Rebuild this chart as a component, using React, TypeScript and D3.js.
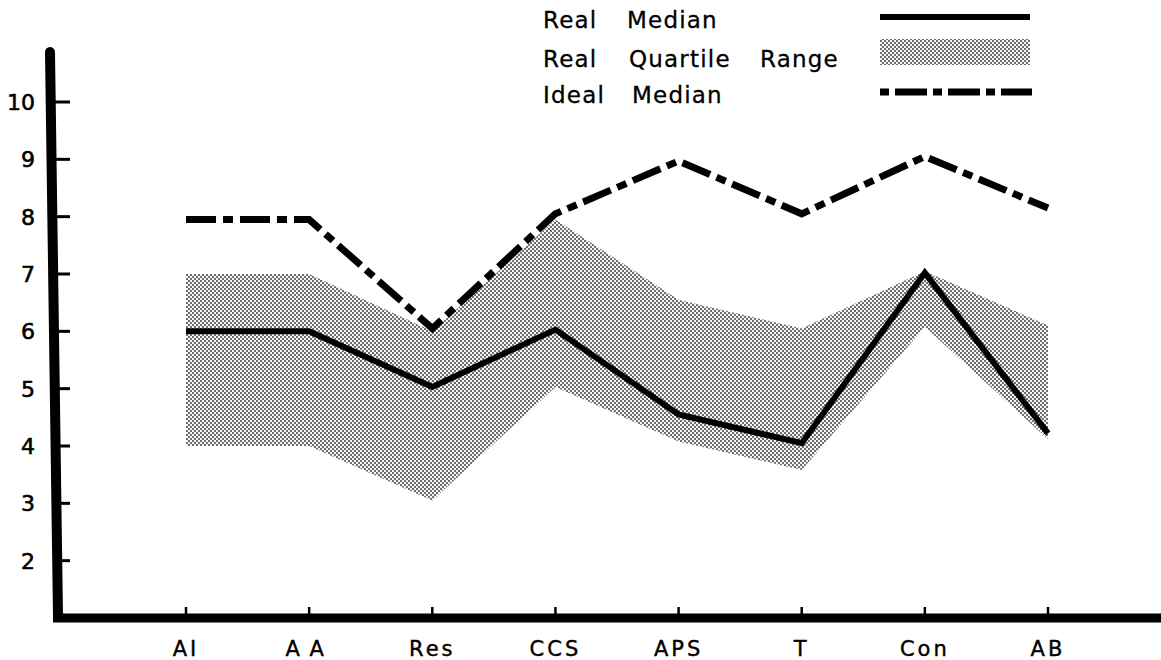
import React from "react";
import * as d3 from "d3";

const categories = ["AI", "AA", "Res", "CCS", "APS", "T", "Con", "AB"];
const realMedian = [6.0, 6.0, 5.03, 6.03, 4.55, 4.05, 7.02, 4.22];
const quartileUpper = [7.0, 7.0, 6.0, 7.95, 6.55, 6.05, 7.05, 6.1];
const quartileLower = [4.0, 4.0, 3.05, 5.03, 4.08, 3.58, 6.08, 4.12];
const idealMedian = [7.95, 7.95, 6.05, 8.05, 8.97, 8.05, 9.05, 8.15];
const yTicks = [2, 3, 4, 5, 6, 7, 8, 9, 10];

const W = 1161;
const H = 660;
const FONT = "'DejaVu Sans', 'Liberation Sans', Arial, sans-serif";

export default function App() {
  const x = d3.scalePoint<string>().domain(categories).range([186, 1048]);
  const y = d3.scaleLinear().domain([1, 10]).range([618, 102]);

  const idx = categories.map((_, i) => i);
  const area = d3
    .area<number>()
    .x((i) => x(categories[i]) as number)
    .y0((i) => y(quartileLower[i]))
    .y1((i) => y(quartileUpper[i]))
    .curve(d3.curveLinear);
  const medLine = d3
    .line<number>()
    .x((i) => x(categories[i]) as number)
    .y((i) => y(realMedian[i]));
  const idealLine = d3
    .line<number>()
    .x((i) => x(categories[i]) as number)
    .y((i) => y(idealMedian[i]));

  const textStyle = { fontFamily: FONT, fill: "#000" } as const;

  return (
    <svg
      width={W}
      height={H}
      viewBox={`0 0 ${W} ${H}`}
      style={{ position: "absolute", left: 0, top: 0, display: "block", background: "#fff" }}
    >
      <defs>
        <pattern id="stipple" width="4" height="4" patternUnits="userSpaceOnUse">
          <rect width="4" height="4" fill="#f6f6f6" />
          <circle cx="1" cy="1" r="0.95" fill="#333" />
          <circle cx="3" cy="3" r="0.95" fill="#333" />
        </pattern>
      </defs>
      <rect width={W} height={H} fill="#fff" />

      {/* quartile area */}
      <path d={area(idx) || ""} fill="url(#stipple)" stroke="none" />

      {/* ideal median */}
      <path
        d={idealLine(idx) || ""}
        fill="none"
        stroke="#000"
        strokeWidth={7}
        strokeDasharray="30 7 10 7"
        strokeLinejoin="miter"
      />

      {/* real median */}
      <path d={medLine(idx) || ""} fill="none" stroke="#000" strokeWidth={6} strokeLinejoin="miter" />

      {/* y axis */}
      <line x1={50} y1={52} x2={58} y2={616} stroke="#000" strokeWidth={10} strokeLinecap="round" />
      {yTicks.map((t) => (
        <g key={t}>
          <line x1={55} x2={70} y1={y(t)} y2={y(t)} stroke="#000" strokeWidth={3} />
          <text
            x={35}
            y={y(t)}
            dy="0.36em"
            textAnchor="end"
            fontSize={22}
            style={textStyle}
            stroke="#000"
            strokeWidth={0.6}
          >
            {t}
          </text>
        </g>
      ))}

      {/* x axis */}
      <line x1={53} y1={618} x2={1161} y2={618} stroke="#000" strokeWidth={9} />
      {categories.map((c) => (
        <g key={c}>
          <line x1={x(c)} x2={x(c)} y1={607} y2={616} stroke="#000" strokeWidth={2.5} />
          <text
            x={x(c)}
            y={656}
            textAnchor="middle"
            fontSize={21}
            letterSpacing={c === "AA" ? 9 : 3}
            style={textStyle}
            stroke="#000"
            strokeWidth={0.4}
          >
            {c}
          </text>
        </g>
      ))}

      {/* legend */}
      <g fontSize={23} letterSpacing={1.2} style={textStyle} stroke="#000" strokeWidth={0.3}>
        <text x={543} y={28}>Real</text>
        <text x={627} y={28}>Median</text>
        <text x={543} y={67}>Real</text>
        <text x={629} y={67}>Quartile</text>
        <text x={760} y={67}>Range</text>
        <text x={543} y={103}>Ideal</text>
        <text x={632} y={103}>Median</text>
      </g>
      <line x1={880} x2={1030} y1={17} y2={17} stroke="#000" strokeWidth={6} />
      <rect x={880} y={39} width={150} height={26} fill="url(#stipple)" />
      <line
        x1={880}
        x2={1032}
        y1={92}
        y2={92}
        stroke="#000"
        strokeWidth={7}
        strokeDasharray="9 6 32 6"
      />
    </svg>
  );
}
